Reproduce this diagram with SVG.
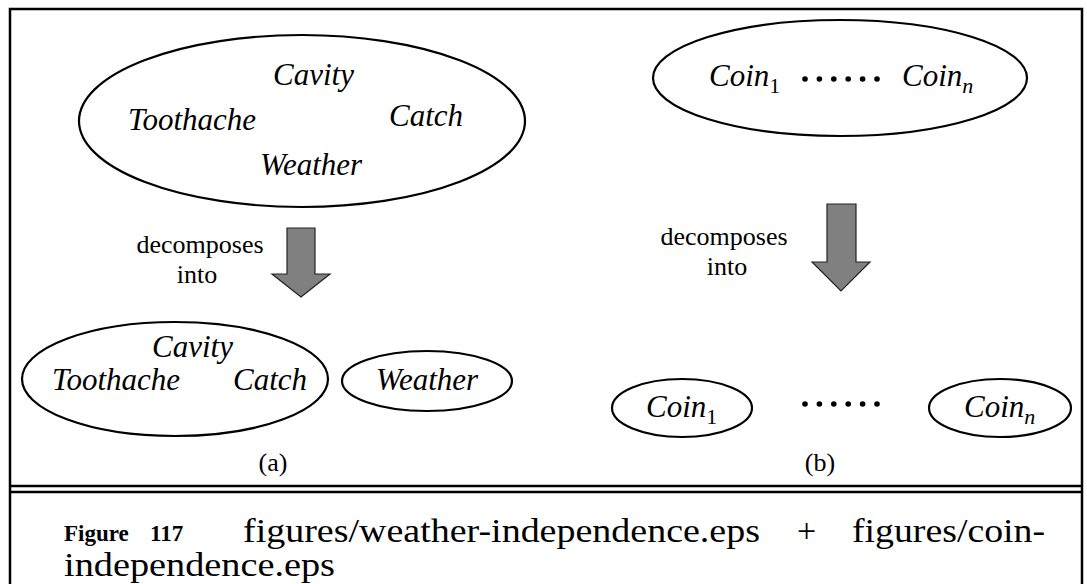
<svg xmlns="http://www.w3.org/2000/svg" width="1087" height="584" viewBox="0 0 1087 584">
<style>
.ell{fill:none;stroke:#000;stroke-width:2.2}
.it{font-family:"Liberation Serif","Times New Roman",serif;font-style:italic;font-size:31px;fill:#000}
.rm{font-family:"Liberation Serif","Times New Roman",serif;font-size:26px;fill:#000}
.sub{font-style:normal;font-size:22px}
.subi{font-size:22px}
.arrow{fill:#808080;stroke:#222;stroke-width:1.2}
.frame{stroke:#000;stroke-width:2.5;fill:none}
.cap{font-family:"Liberation Serif","Times New Roman",serif;font-size:34px;fill:#000}
.capb{font-family:"Liberation Serif","Times New Roman",serif;font-size:23px;font-weight:bold;fill:#000}
</style>
<rect width="1087" height="584" fill="#fff"/>
<g id="frame">
<path class="frame" d="M10,584 V9 H1082 V584"/>
<line class="frame" x1="10" y1="486" x2="1082" y2="486"/>
<line class="frame" x1="10" y1="492" x2="1082" y2="492"/>
</g>
<g id="a-top">
<ellipse class="ell" cx="302" cy="121" rx="223" ry="86"/>
<text class="it" x="273" y="85">Cavity</text>
<text class="it" x="128" y="130">Toothache</text>
<text class="it" x="389" y="126">Catch</text>
<text class="it" x="260" y="175">Weather</text>
</g>
<g id="b-top">
<ellipse class="ell" cx="840" cy="78" rx="187" ry="58"/>
<text class="it" x="709" y="86">Coin<tspan class="sub" dy="7">1</tspan></text>
<g fill="#000">
<circle cx="805" cy="79" r="2.8"/><circle cx="819.4" cy="79" r="2.8"/><circle cx="833.8" cy="79" r="2.8"/><circle cx="848.2" cy="79" r="2.8"/><circle cx="862.6" cy="79" r="2.8"/><circle cx="877" cy="79" r="2.8"/>
</g>
<text class="it" x="902" y="86">Coin<tspan class="subi" dy="7">n</tspan></text>
</g>
<g id="connectors">
<g id="arrow-a">
<polygon class="arrow" points="287,228 315,228 315,274 330,274 301,297 272,274 287,274"/>
<text class="rm" x="200" y="253" text-anchor="middle">decomposes</text>
<text class="rm" x="197" y="283" text-anchor="middle">into</text>
</g>
<g id="arrow-b">
<polygon class="arrow" points="827,204 856,204 856,262 870,262 841,291 812,262 827,262"/>
<text class="rm" x="724" y="245" text-anchor="middle">decomposes</text>
<text class="rm" x="727" y="275" text-anchor="middle">into</text>
</g>
</g>
<g id="a-bottom-1">
<ellipse class="ell" cx="175" cy="379" rx="153" ry="57"/>
<text class="it" x="152" y="357">Cavity</text>
<text class="it" x="52" y="390">Toothache</text>
<text class="it" x="233" y="390">Catch</text>
</g>
<g id="a-bottom-2">
<ellipse class="ell" cx="427" cy="381" rx="85" ry="30"/>
<text class="it" x="376" y="390">Weather</text>
</g>
<g id="b-bottom-1">
<ellipse class="ell" cx="682" cy="408" rx="70" ry="29"/>
<text class="it" x="646" y="417">Coin<tspan class="sub" dy="7">1</tspan></text>
</g>
<g id="b-dots" fill="#000">
<circle cx="805" cy="404" r="2.8"/><circle cx="819.4" cy="404" r="2.8"/><circle cx="833.8" cy="404" r="2.8"/><circle cx="848.2" cy="404" r="2.8"/><circle cx="862.6" cy="404" r="2.8"/><circle cx="877" cy="404" r="2.8"/>
</g>
<g id="b-bottom-2">
<ellipse class="ell" cx="1000" cy="408" rx="71" ry="29"/>
<text class="it" x="964" y="417">Coin<tspan class="subi" dy="7">n</tspan></text>
</g>
<text class="rm" x="273" y="471" text-anchor="middle">(a)</text>
<text class="rm" x="820" y="471" text-anchor="middle">(b)</text>
<g id="caption">
<text class="capb" x="64" y="541">Figure</text>
<text class="capb" x="150" y="541">117</text>
<text class="cap" x="243" y="542" textLength="517" lengthAdjust="spacingAndGlyphs">figures/weather-independence.eps</text>
<text class="cap" x="797" y="542">+</text>
<text class="cap" x="852" y="542" textLength="193" lengthAdjust="spacingAndGlyphs">figures/coin-</text>
<text class="cap" x="64" y="576" textLength="271" lengthAdjust="spacingAndGlyphs">independence.eps</text>
</g>
</svg>
